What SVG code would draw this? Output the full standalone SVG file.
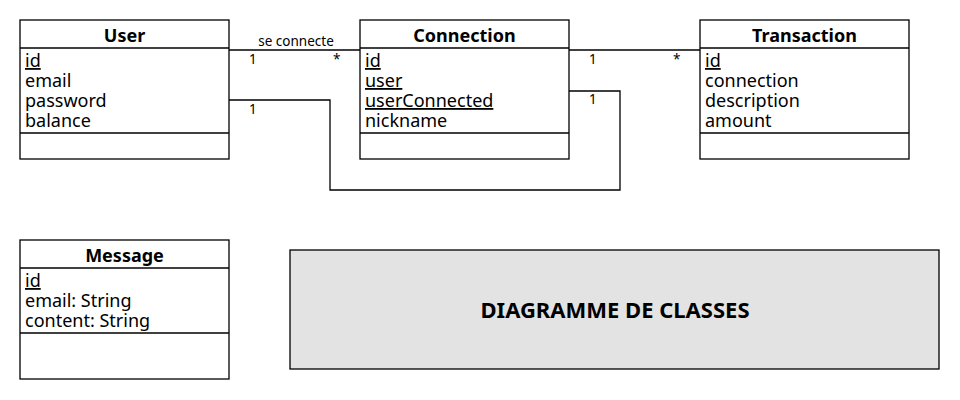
<svg xmlns="http://www.w3.org/2000/svg" width="960" height="400" viewBox="0 0 960 400">
<style>
.box{fill:#fff;stroke:#000;stroke-width:1.3}
.ln{stroke:#000;stroke-width:1.3;fill:none}
.t{font-family:"Noto Sans","Open Sans",sans-serif;font-size:18px;fill:#000}
.h{font-family:"Noto Sans","Open Sans",sans-serif;font-size:18px;font-weight:bold;fill:#000;text-anchor:middle}
.s{font-family:"Noto Sans","Open Sans",sans-serif;font-size:13.5px;fill:#000}
.u{text-decoration:underline}
.big{font-family:"Noto Sans","Open Sans",sans-serif;font-size:22px;font-weight:bold;fill:#000;text-anchor:middle}
</style>
<g id="connectors">
<polyline class="ln" points="229,50 360,50"/>
<polyline class="ln" points="229,100 330,100 330,190 620,190 620,91 569,91"/>
<polyline class="ln" points="569,50 700,50"/>
<text class="s" x="296" y="46" text-anchor="middle">se connecte</text>
<text class="s" x="249" y="64">1</text>
<text class="s" x="333" y="64">*</text>
<text class="s" x="249" y="114">1</text>
<text class="s" x="589" y="104">1</text>
<text class="s" x="589" y="64">1</text>
<text class="s" x="673" y="64">*</text>
</g>
<g id="user">
<rect class="box" x="20" y="20" width="209" height="139"/>
<line class="ln" x1="20" y1="48" x2="229" y2="48"/>
<line class="ln" x1="20" y1="133" x2="229" y2="133"/>
<text class="h" x="124.5" y="42">User</text>
<text class="t u" x="25" y="67">id</text>
<text class="t" x="25" y="87">email</text>
<text class="t" x="25" y="107">password</text>
<text class="t" x="25" y="127">balance</text>
</g>
<g id="connection">
<rect class="box" x="360" y="20" width="209" height="139"/>
<line class="ln" x1="360" y1="48" x2="569" y2="48"/>
<line class="ln" x1="360" y1="133" x2="569" y2="133"/>
<text class="h" x="464.5" y="42">Connection</text>
<text class="t u" x="365" y="67">id</text>
<text class="t u" x="365" y="87">user</text>
<text class="t u" x="365" y="107">userConnected</text>
<text class="t" x="365" y="127">nickname</text>
</g>
<g id="transaction">
<rect class="box" x="700" y="20" width="209" height="139"/>
<line class="ln" x1="700" y1="48" x2="909" y2="48"/>
<line class="ln" x1="700" y1="133" x2="909" y2="133"/>
<text class="h" x="804.5" y="42">Transaction</text>
<text class="t u" x="705" y="67">id</text>
<text class="t" x="705" y="87">connection</text>
<text class="t" x="705" y="107">description</text>
<text class="t" x="705" y="127">amount</text>
</g>
<g id="message">
<rect class="box" x="20" y="240" width="209" height="139"/>
<line class="ln" x1="20" y1="268" x2="229" y2="268"/>
<line class="ln" x1="20" y1="333" x2="229" y2="333"/>
<text class="h" x="124.5" y="262">Message</text>
<text class="t u" x="25" y="287">id</text>
<text class="t" x="25" y="307">email: String</text>
<text class="t" x="25" y="327">content: String</text>
</g>
<g id="title">
<rect x="290" y="250" width="649" height="119" fill="#e3e3e3" stroke="#000" stroke-width="1.3"/>
<text class="big" x="615" y="318">DIAGRAMME DE CLASSES</text>
</g>
</svg>
